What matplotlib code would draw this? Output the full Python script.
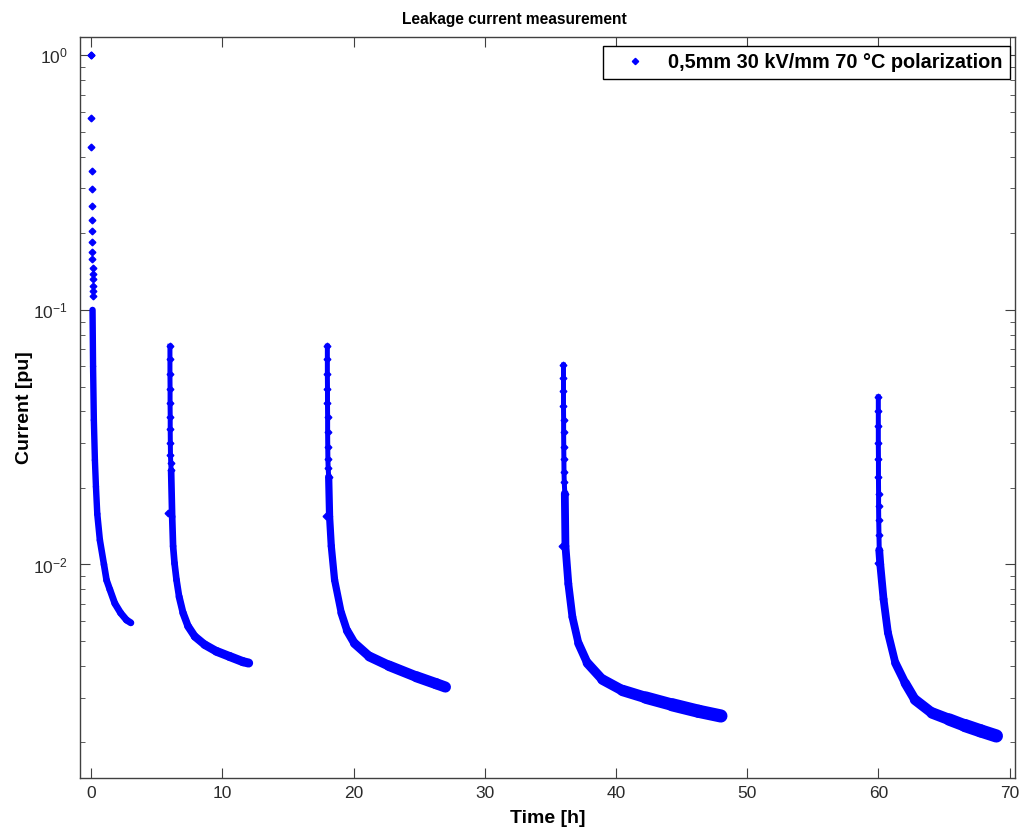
import numpy as np
import matplotlib.pyplot as plt
from matplotlib.lines import Line2D
from matplotlib.collections import LineCollection

plt.rcParams['font.family'] = ['Liberation Sans', 'DejaVu Sans']
plt.rcParams['mathtext.default'] = 'regular'

# first sample of each polarization run (lower than the peak)
first_t = [0.0, 5.85, 17.9, 35.9, 59.95]
first_I = [1.0, 0.0159, 0.0155, 0.0118, 0.0101]

# sparse points on the spikes
spike_t = [
    [0.0, 0.01, 0.02, 0.03, 0.04, 0.03, 0.06, 0.07, 0.07, 0.08, 0.09, 0.10, 0.10, 0.11, 0.12, 0.12, 0.13],
    [6.0, 6.0, 6.0, 6.01, 6.01, 6.02, 6.02, 6.03, 6.04, 6.06, 6.09],
    [18.0, 18.0, 18.0, 18.01, 18.01, 18.02, 18.02, 18.03, 18.04, 18.06, 18.1],
    [36.0, 36.0, 36.0, 36.0, 36.01, 36.01, 36.02, 36.03, 36.04, 36.06, 36.1],
    [60.0, 60.0, 60.0, 60.0, 60.01, 60.01, 60.02, 60.02, 60.03, 60.05, 60.07],
]
spike_I = [
    [1.0, 0.568, 0.436, 0.351, 0.299, 0.255, 0.226, 0.204, 0.185, 0.169, 0.158, 0.146, 0.138, 0.132, 0.124, 0.119, 0.113],
    [0.072, 0.064, 0.056, 0.049, 0.043, 0.038, 0.034, 0.030, 0.027, 0.025, 0.0234],
    [0.072, 0.064, 0.056, 0.049, 0.043, 0.038, 0.033, 0.029, 0.026, 0.024, 0.0221],
    [0.0607, 0.054, 0.048, 0.042, 0.037, 0.033, 0.029, 0.026, 0.023, 0.021, 0.019],
    [0.0455, 0.040, 0.035, 0.030, 0.026, 0.022, 0.019, 0.017, 0.015, 0.013, 0.0114],
]

# dense decay part of each run
tail_t = [
    [0.10, 0.14, 0.20, 0.28, 0.36, 0.46, 0.66, 0.97, 1.17, 1.42, 1.80, 2.24, 2.69, 3.02],
    [6.09, 6.17, 6.24, 6.35, 6.50, 6.70, 7.00, 7.38, 7.90, 8.65, 9.54, 10.55, 11.57, 12.0],
    [18.10, 18.17, 18.30, 18.55, 19.06, 19.50, 20.07, 21.2, 22.7, 24.8, 26.3, 27.0],
    [36.10, 36.15, 36.37, 36.68, 37.14, 37.82, 38.97, 40.5, 42.27, 44.3, 46.3, 48.0],
    [60.07, 60.15, 60.40, 60.73, 61.30, 62.05, 62.8, 64.1, 65.4, 66.6, 67.8, 69.0],
]
tail_I = [
    [0.10, 0.060, 0.0369, 0.0257, 0.0202, 0.0158, 0.01245, 0.0100, 0.00867, 0.00797, 0.00703, 0.00645, 0.00605, 0.0059],
    [0.0234, 0.0154, 0.0118, 0.0101, 0.0087, 0.00747, 0.00645, 0.00572, 0.00521, 0.00484, 0.00456, 0.00435, 0.00415, 0.0041],
    [0.0221, 0.0154, 0.0118, 0.0087, 0.00645, 0.0055, 0.0049, 0.00435, 0.0040, 0.00362, 0.0034, 0.0033],
    [0.019, 0.0118, 0.0084, 0.00622, 0.0049, 0.0041, 0.00353, 0.0032, 0.0030, 0.00281, 0.00265, 0.00254],
    [0.0114, 0.0100, 0.0073, 0.0054, 0.0041, 0.00342, 0.00294, 0.00261, 0.00246, 0.00233, 0.00222, 0.00212],
]

blue = '#0000ff'
fig = plt.figure(figsize=(10.25, 8.3), dpi=100)
ax = fig.add_axes([0.078, 0.0627, 0.912, 0.8927])

steep_lw = [4.6, 4.8, 5.2, 5.6, 5.6]
flat_lw = [5.0, 6.5, 8.0, 9.5, 9.5]
for s in range(5):
    ax.plot(spike_t[s], spike_I[s], ls='none', marker='D', ms=3.4, color=blue)
    if s > 0:
        ax.plot(spike_t[s], spike_I[s], ls='-', lw=3.6, color=blue)
    pts = np.column_stack([tail_t[s], tail_I[s]])
    segs = np.stack([pts[:-1], pts[1:]], axis=1)
    n = len(segs)
    ramp = np.clip((np.arange(n) - n * 0.3) / (n * 0.5), 0, 1)
    lws = steep_lw[s] + (flat_lw[s] - steep_lw[s]) * ramp
    lc = LineCollection(segs, linewidths=lws, colors=blue, capstyle='round', joinstyle='round')
    ax.add_collection(lc)
ax.plot(first_t, first_I, ls='none', marker='D', ms=3.4, color=blue)

ax.set_yscale('log')
ax.set_xlim(-0.86, 70.4)
ax.set_ylim(1.45e-3, 1.18)
ax.set_xticks([0, 10, 20, 30, 40, 50, 60, 70])

axcol = '#404040'
for sp in ax.spines.values():
    sp.set_color(axcol)
    sp.set_linewidth(1.0)
ax.tick_params(which='both', direction='in', top=True, right=True,
               color=axcol, labelcolor='#2a2a2a', labelsize=12.5)
ax.tick_params(which='major', length=7)
ax.tick_params(which='minor', length=3.8)
ax.tick_params(axis='x', which='minor', bottom=False, top=False)
ax.tick_params(axis='x', pad=6)
ax.tick_params(axis='y', which='major', pad=9)

fig.text(0.502, 0.977, 'Leakage current measurement', fontsize=11.2, fontweight='bold',
         ha='center', va='center')
ax.set_xlabel('Time [h]', fontsize=14, fontweight='bold', labelpad=6)
ax.set_ylabel('Current [pu]', fontsize=14, fontweight='bold', labelpad=0)

handle = Line2D([], [], ls='none', marker='D', ms=3.2, color=blue)
leg = ax.legend([handle], ['0,5mm 30 kV/mm 70 \u00b0C polarization'], loc='upper right',
                bbox_to_anchor=(1 - 5 / 935, 1 - 9 / 741),
                fancybox=False, edgecolor='black', framealpha=1,
                prop={'weight': 'bold', 'size': 14.3}, borderaxespad=0,
                handlelength=2.5, handletextpad=0.45, borderpad=0.35)
leg.get_frame().set_linewidth(1.0)

fig.savefig('out.png', dpi=100)
